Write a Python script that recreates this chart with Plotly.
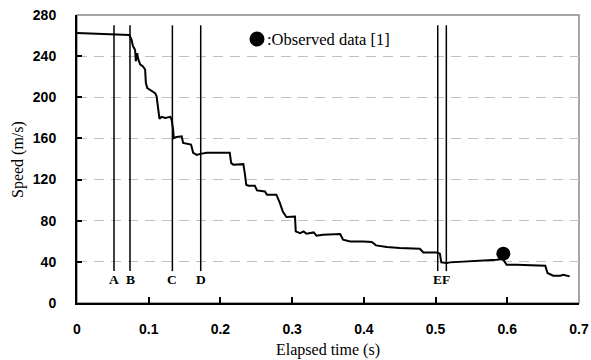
import plotly.graph_objects as go

# Speed history (elapsed time in s, speed in m/s)
time_s = [0.000, 0.050, 0.073, 0.076, 0.078, 0.081, 0.082, 0.084, 0.085, 0.088,
          0.092, 0.095, 0.096, 0.098, 0.103, 0.109, 0.111, 0.113, 0.115, 0.118,
          0.123, 0.130, 0.132, 0.134, 0.135, 0.139, 0.146, 0.148, 0.153, 0.159,
          0.162, 0.167, 0.172, 0.181, 0.213, 0.215, 0.218, 0.232, 0.234, 0.236,
          0.239, 0.248, 0.251, 0.262, 0.265, 0.278, 0.283, 0.287, 0.292, 0.301,
          0.304, 0.305, 0.311, 0.316, 0.320, 0.330, 0.334, 0.343, 0.367, 0.371,
          0.381, 0.399, 0.411, 0.417, 0.432, 0.450, 0.478, 0.483, 0.502, 0.506,
          0.508, 0.516, 0.520, 0.585, 0.594, 0.599, 0.613, 0.653, 0.656, 0.664,
          0.674, 0.678, 0.687]
speed_ms = [262.5, 261.5, 260.5, 256, 250, 246, 235, 243, 238, 232,
            230, 227, 214, 209, 207, 204, 201, 191, 179, 181,
            180, 181, 178, 168.5, 160.4, 161.4, 162, 155.6, 155, 154,
            146, 144, 145, 146, 146, 136, 134.5, 135, 126, 115,
            114, 114, 109.5, 108.5, 105.3, 105.3, 97, 89, 83.6, 84,
            84, 69.6, 68, 69.6, 67.4, 68.6, 65.4, 66.4, 67, 61.5,
            59.9, 59.9, 59.3, 56, 54.4, 53.5, 52.8, 49.2, 49.2, 48,
            39.5, 38.9, 39.5, 42, 42.8, 37.2, 37.2, 36.3, 29.2, 26.5,
            26.5, 27.5, 25.9]

# Observed data point [1]
obs_time = [0.5945]
obs_speed = [48]

# Event markers
event_labels = ["A", "B", "C", "D", "E", "F"]
event_times = [0.0516, 0.0739, 0.133, 0.1725, 0.503, 0.515]
event_line_top = 270
event_line_bottom = 31
event_label_y = 22.5

x_ticks = [0, 0.1, 0.2, 0.3, 0.4, 0.5, 0.6, 0.7]
x_tick_text = ["0", "0.1", "0.2", "0.3", "0.4", "0.5", "0.6", "0.7"]
y_ticks = [0, 40, 80, 120, 160, 200, 240, 280]

W, H = 591, 360
L, R, T, B = 77, 12, 15, 57
PW, PH = W - L - R, H - T - B


def px_x(p):
    return (p - L) / PW


def px_y(p):
    return (H - B - p) / PH


fig = go.Figure()

# event vertical lines
for lab, t in zip(event_labels, event_times):
    fig.add_trace(go.Scatter(x=[t, t], y=[event_line_bottom, event_line_top],
                             mode="lines", line=dict(color="black", width=1.5),
                             showlegend=False, hoverinfo="skip"))

fig.add_trace(go.Scatter(x=time_s, y=speed_ms, mode="lines",
                         line=dict(color="black", width=2),
                         showlegend=False))

fig.add_trace(go.Scatter(x=obs_time, y=obs_speed, mode="markers",
                         marker=dict(color="black", size=14),
                         showlegend=False))

for lab, t in zip(event_labels, event_times):
    fig.add_annotation(x=t, y=event_label_y, text="<b>" + lab + "</b>",
                       showarrow=False, xanchor="center", yanchor="middle",
                       font=dict(family="Liberation Serif", size=13.5, color="black"))

# legend key
fig.add_shape(type="circle", xref="paper", yref="paper",
              x0=px_x(249.5), x1=px_x(264.5),
              y0=px_y(46.5), y1=px_y(31.5),
              fillcolor="black", line=dict(color="black", width=0))
fig.add_annotation(xref="paper", yref="paper",
                   x=px_x(264.5), y=px_y(39.5),
                   text=":Observed data [1]", showarrow=False,
                   xanchor="left", yanchor="middle",
                   font=dict(family="Liberation Serif", size=16.5, color="black"))

# axis titles
fig.add_annotation(xref="paper", yref="paper", x=px_x(328), y=px_y(349.5),
                   text="Elapsed time (s)", showarrow=False,
                   xanchor="center", yanchor="middle",
                   font=dict(family="Liberation Serif", size=16, color="black"))
fig.add_annotation(xref="paper", yref="paper", x=px_x(18), y=px_y(160),
                   text="Speed (m/s)", showarrow=False, textangle=-90,
                   xanchor="center", yanchor="middle",
                   font=dict(family="Liberation Serif", size=16, color="black"))

# gray frame (top / right)
fig.add_shape(type="rect", xref="paper", yref="paper", x0=0, x1=1, y0=0, y1=1,
              line=dict(color="#8a8a8a", width=1.5), layer="below")

fig.update_layout(
    width=W, height=H,
    margin=dict(l=L, r=R, t=T, b=B),
    paper_bgcolor="white", plot_bgcolor="white",
    xaxis=dict(range=[0, 0.7], tickvals=x_ticks, ticktext=x_tick_text,
               ticks="inside", ticklen=6, tickwidth=1.5, tickcolor="black",
               showline=True, linecolor="black", linewidth=2,
               showgrid=False, zeroline=False, ticklabelstandoff=12,
               automargin=False,
               tickfont=dict(family="Liberation Sans", size=14, color="black", weight="bold")),
    yaxis=dict(range=[0, 280], tickvals=y_ticks,
               ticks="inside", ticklen=5, tickwidth=1.5, tickcolor="black",
               showline=True, linecolor="black", linewidth=2,
               showgrid=True, gridcolor="#c0c0c0", gridwidth=1.2, griddash="10px,7px",
               zeroline=False, ticklabelstandoff=16, automargin=False,
               tickfont=dict(family="Liberation Sans", size=14, color="black", weight="bold")),
)

fig.write_html("out.html", config={"displayModeBar": False},
               post_script="document.body.style.margin='0';document.body.style.overflow='hidden';")
